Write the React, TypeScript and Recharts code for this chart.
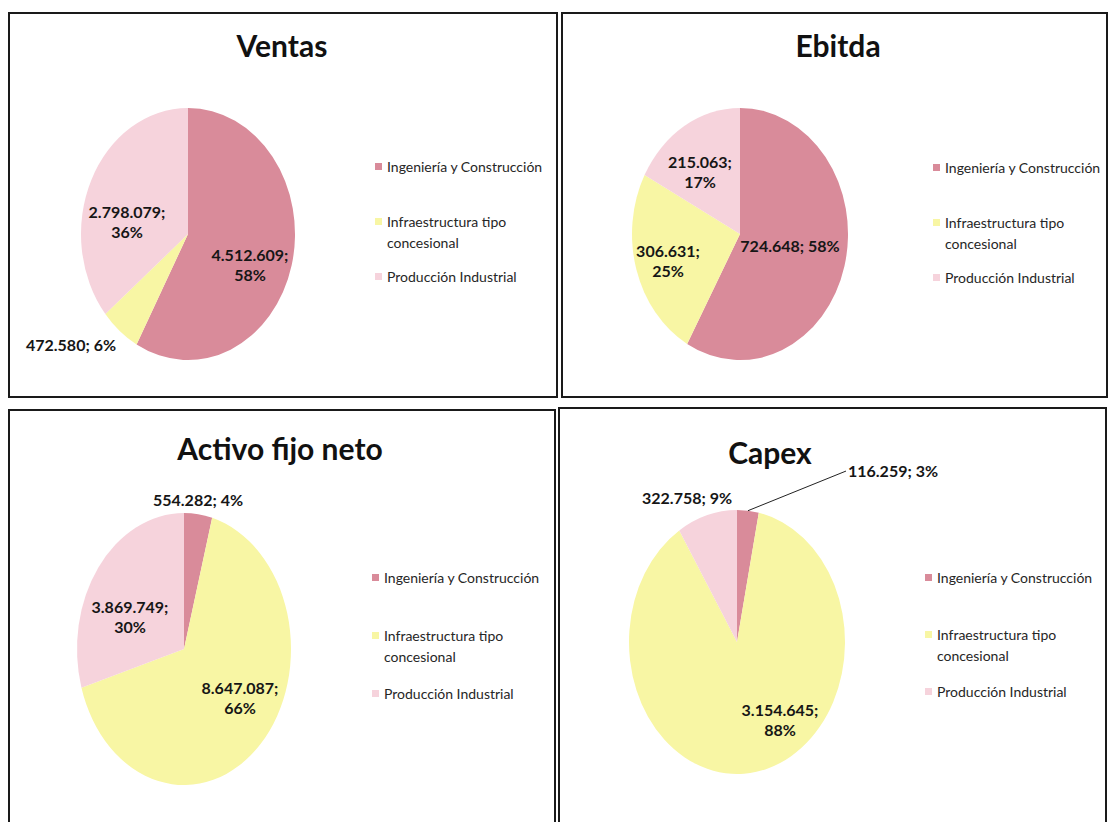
import React from 'react';
import { PieChart, Pie, Cell, Legend } from 'recharts';

const categories = ['Ingeniería y Construcción', 'Infraestructura tipo concesional', 'Producción Industrial'];
const sliceColors = ['#d98b9a', '#f8f6a4', '#f6d3dc'];

const ventas = [4512609, 472580, 2798079];
const ebitda = [724648, 306631, 215063];
const activoFijoNeto = [554282, 8647087, 3869749];
const capex = [116259, 3154645, 322758];

const FONT = 'Lato, "Open Sans", sans-serif';
const RAD = Math.PI / 180;

const fmt = (v: number) => String(v).replace(/\B(?=(\d{3})+(?!\d))/g, '.');

type LabelSpot = { r: number; shift: number; split: boolean; leader?: boolean };

type PanelCfg = {
  id: string;
  title: string;
  values: number[];
  box: { left: number; top: number; width: number; height: number };
  titleX: number;
  titleY: number;
  cx: number;
  cy: number;
  rx: number;
  k: number; // vertical stretch of the pie (the scan is oval)
  legendX: number;
  legendY: number;
  legendGap: number;
  labels: LabelSpot[];
};

const panels: PanelCfg[] = [
  {
    id: 'ventas', title: 'Ventas', values: ventas,
    box: { left: 8, top: 12, width: 550, height: 386 },
    titleX: 274, titleY: 33, cx: 180, cy: 222, rx: 107, k: 1.178,
    legendX: 367, legendY: 155, legendGap: 55,
    labels: [
      { r: 0.629, shift: -8.6, split: true },
      { r: 1.404, shift: -11.5, split: false },
      { r: 0.578, shift: 15.7, split: true },
    ],
  },
  {
    id: 'ebitda', title: 'Ebitda', values: ebitda,
    box: { left: 561, top: 12, width: 547, height: 386 },
    titleX: 277, titleY: 33, cx: 179, cy: 222, rx: 108, k: 1.167,
    legendX: 372, legendY: 156, legendGap: 55,
    labels: [
      { r: 0.473, shift: 3, split: false },
      { r: 0.7, shift: 1.4, split: true },
      { r: 0.616, shift: 5.9, split: true },
    ],
  },
  {
    id: 'activo', title: 'Activo fijo neto', values: activoFijoNeto,
    box: { left: 8, top: 409, width: 548, height: 420 },
    titleX: 272, titleY: 39, cx: 176, cy: 240, rx: 107, k: 1.271,
    legendX: 364, legendY: 169, legendGap: 58,
    labels: [
      { r: 1.104, shift: 0.8, split: false },
      { r: 0.635, shift: 9.8, split: true },
      { r: 0.557, shift: 11.7, split: true },
    ],
  },
  {
    id: 'capex', title: 'Capex', values: capex,
    box: { left: 558, top: 407, width: 549, height: 420 },
    titleX: 212, titleY: 45, cx: 179, cy: 235, rx: 108, k: 1.222,
    legendX: 367, legendY: 171, legendGap: 57,
    labels: [
      { r: 1.642, shift: -32.1, split: false, leader: true },
      { r: 0.713, shift: 23.6, split: true },
      { r: 1.185, shift: 6.8, split: false },
    ],
  },
];

const ChartPanel = ({ cfg }: { cfg: PanelCfg }) => {
  const data = categories.map((name, i) => ({ name, value: cfg.values[i] }));

  const renderLabel = (props: any) => {
    const { cx, cy, midAngle, outerRadius, percent, index } = props;
    const spot = cfg.labels[index];
    const a = (midAngle + spot.shift) * RAD;
    const x = cx + outerRadius * spot.r * Math.cos(a);
    const y = cy - outerRadius * cfg.k * spot.r * Math.sin(a);
    const first = `${fmt(cfg.values[index])};`;
    const pct = `${Math.round(percent * 100)}%`;
    const common = { fontFamily: FONT, fontSize: 16, fontWeight: 700, fill: '#161616' };

    if (spot.leader) {
      const m = midAngle * RAD;
      const ex = cx + outerRadius * Math.cos(m);
      const ey = cy - outerRadius * cfg.k * Math.sin(m);
      return (
        <g>
          <line x1={ex} y1={ey} x2={x} y2={y} stroke="#222" strokeWidth={1} />
          <text x={x + 2} y={y + 6} textAnchor="start" {...common}>
            {first} {pct}
          </text>
        </g>
      );
    }
    if (!spot.split) {
      return (
        <text x={x} y={y + 6} textAnchor="middle" {...common}>
          {first} {pct}
        </text>
      );
    }
    return (
      <text textAnchor="middle" {...common}>
        <tspan x={x} y={y - 4}>{first}</tspan>
        <tspan x={x} y={y + 16}>{pct}</tspan>
      </text>
    );
  };

  const renderLegend = () => (
    <div style={{ fontFamily: FONT, fontSize: 14, color: '#262626' }}>
      {categories.map((c, i) => (
        <div key={c} style={{ display: 'flex', alignItems: 'flex-start', height: cfg.legendGap }}>
          <span
            style={{ width: 7, height: 7, background: sliceColors[i], marginTop: 7, marginRight: 5, flex: 'none' }}
          />
          <span style={{ width: 170, lineHeight: '21px' }}>{c}</span>
        </div>
      ))}
    </div>
  );

  return (
    <div
      className={`pie-${cfg.id}`}
      style={{ position: 'absolute', ...cfg.box, overflow: 'hidden' }}
    >
      <style>{`.pie-${cfg.id} .recharts-sector { transform-origin: ${cfg.cx}px ${cfg.cy}px; transform: scaleY(${cfg.k}); }`}</style>
      <div
        style={{
          position: 'absolute',
          left: cfg.titleX,
          top: cfg.titleY - 20,
          transform: 'translateX(-50%)',
          fontFamily: FONT,
          fontSize: 30,
          fontWeight: 700,
          lineHeight: '40px',
          whiteSpace: 'nowrap',
          color: '#111',
        }}
      >
        {cfg.title}
      </div>
      <PieChart width={cfg.box.width} height={cfg.box.height} margin={{ top: 0, right: 0, bottom: 0, left: 0 }}>
        <Pie
          data={data}
          dataKey="value"
          nameKey="name"
          cx={cfg.cx}
          cy={cfg.cy}
          outerRadius={cfg.rx}
          startAngle={90}
          endAngle={-270}
          stroke="none"
          label={renderLabel}
          labelLine={false}
          isAnimationActive={false}
        >
          {data.map((d, i) => (
            <Cell key={d.name} fill={sliceColors[i]} />
          ))}
        </Pie>
        <Legend
          layout="vertical"
          align="right"
          verticalAlign="top"
          content={renderLegend}
          wrapperStyle={{ left: cfg.legendX, top: cfg.legendY - 11, width: 190, right: 'auto' }}
        />
      </PieChart>
      <div
        style={{
          position: 'absolute',
          inset: 0,
          border: '2px solid #1a1a1a',
          pointerEvents: 'none',
        }}
      />
    </div>
  );
};

export default function App() {
  return (
    <div
      style={{
        position: 'absolute',
        left: 0,
        top: 0,
        width: 1110,
        height: 822,
        background: '#fff',
        overflow: 'hidden',
      }}
    >
      {panels.map((p) => (
        <ChartPanel key={p.id} cfg={p} />
      ))}
    </div>
  );
}
